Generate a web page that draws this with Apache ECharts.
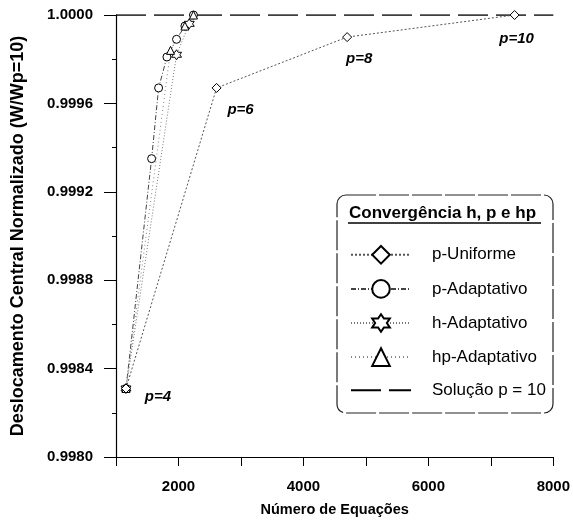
<!DOCTYPE html>
<html>
<head>
<meta charset="utf-8">
<script src="https://cdn.jsdelivr.net/npm/echarts@6/dist/echarts.min.js"></script>
<style>
  html, body { margin: 0; padding: 0; background: #fff; }
  #chart { width: 573px; height: 526px; }
</style>
</head>
<body>
<div id="chart"></div>
<script>
// values
const xTicks = [2000, 4000, 6000, 8000]
const yTicks = [0.998, 0.9984, 0.9988, 0.9992, 0.9996, 1.0]

const uniX = [1160, 2610, 4700, 7380]
const uniY = [0.99831, 0.99967, 0.9999, 1.0]
const uniLabels = ['p=4', 'p=6', 'p=8', 'p=10']

const pAdaX = [1160, 1570, 1682, 1815, 1969, 2103, 2240]
const pAdaY = [0.99831, 0.99935, 0.99967, 0.99981, 0.99989, 0.99995, 1.0]

const hAdaX = [1160, 1969, 2172, 2278]
const hAdaY = [0.99831, 0.99982, 0.99996, 1.00001]

const hpAdaX = [1160, 1873, 2103, 2240]
const hpAdaY = [0.99831, 0.99984, 0.99995, 1.0]

const solX = [1000, 8000]
const solY = [1.0, 1.0]

const zip = (xs, ys) => xs.map((x, i) => [x, ys[i]])

const font = 'Liberation Sans, Arial, sans-serif'
const star = 'path://M50 0 L64.4 25 L93.3 25 L78.9 50 L93.3 75 L64.4 75 L50 100 L35.6 75 L6.7 75 L21.1 50 L6.7 25 L35.6 25 Z'
const labelOffsets = [[32, 8], [24, 22], [12, 22], [2, 24]]

const markStyle = { color: '#fff', borderColor: '#000', borderWidth: 1 }

const chart = echarts.init(document.getElementById('chart'))
chart.setOption({
  backgroundColor: '#fff',
  animation: false,
  grid: { left: 116, right: 18, top: 15, bottom: 69 },
  xAxis: {
    type: 'value',
    min: 1000,
    max: 8000,
    interval: 1000,
    name: 'Número de Equações',
    nameLocation: 'middle',
    nameGap: 45,
    nameTextStyle: { fontFamily: font, fontSize: 14.5, fontWeight: 'bold', color: '#000' },
    axisLine: { lineStyle: { color: '#000', width: 1 } },
    axisTick: { inside: false, length: 9, lineStyle: { color: '#000' } },
    axisLabel: {
      margin: 22,
      fontFamily: font, fontSize: 15, fontWeight: 'bold', color: '#000',
      formatter: v => (xTicks.includes(v) ? String(v) : '')
    },
    splitLine: { show: false }
  },
  yAxis: {
    type: 'value',
    min: yTicks[0],
    max: yTicks[yTicks.length - 1],
    interval: 0.0004,
    name: 'Deslocamento Central Normalizado (W/Wp=10)',
    nameLocation: 'middle',
    nameGap: 89,
    nameTextStyle: { fontFamily: font, fontSize: 18, fontWeight: 'bold', color: '#000' },
    axisLine: { show: true, lineStyle: { color: '#000', width: 1.2 } },
    axisTick: { length: 12, lineStyle: { color: '#000' } },
    minorTick: { show: true, splitNumber: 2, length: 4, lineStyle: { color: '#000' } },
    axisLabel: {
      margin: 23,
      fontFamily: font, fontSize: 15, fontWeight: 'bold', color: '#000',
      formatter: v => v.toFixed(4)
    },
    splitLine: { show: false }
  },
  legend: {
    orient: 'vertical',
    left: 345,
    top: 240,
    itemWidth: 60,
    itemHeight: 22,
    itemGap: 14.5,
    textStyle: { fontFamily: font, fontSize: 17, color: '#000', padding: [0, 0, 0, 16] },
    data: [
      'p-Uniforme', 'p-Adaptativo', 'h-Adaptativo', 'hp-Adaptativo',
      { name: 'Solução p = 10', itemStyle: { opacity: 0 } }
    ]
  },
  graphic: [
    {
      type: 'rect',
      shape: { x: 337, y: 195, width: 216, height: 218, r: 9 },
      style: { fill: 'none', stroke: '#222', lineWidth: 1.2, lineDash: [30, 3] },
      z: 10
    },
    {
      type: 'text',
      left: 349,
      top: 205,
      style: { text: 'Convergência h, p e hp', fontFamily: font, fontSize: 17, fontWeight: 'bold', fill: '#000' },
      z: 10
    },
    {
      type: 'line',
      shape: { x1: 348, y1: 223, x2: 541, y2: 223 },
      style: { stroke: '#000', lineWidth: 1.3 },
      z: 10
    }
  ],
  series: [
    {
      name: 'p-Uniforme',
      type: 'line',
      symbol: 'diamond',
      symbolSize: 9,
      itemStyle: markStyle,
      lineStyle: { color: '#555', width: 1, type: [2, 2] },
      z: 5,
      data: uniX.map((x, i) => ({
        value: [x, uniY[i]],
        label: {
          show: true,
          formatter: uniLabels[i],
          position: 'inside',
          offset: labelOffsets[i],
          fontFamily: font, fontSize: 15, fontWeight: 'bold', fontStyle: 'italic', color: '#000'
        }
      }))
    },
    {
      name: 'p-Adaptativo',
      type: 'line',
      symbol: 'circle',
      symbolSize: 8,
      itemStyle: markStyle,
      lineStyle: { color: '#444', width: 1, type: [5, 2, 1, 2] },
      data: zip(pAdaX, pAdaY)
    },
    {
      name: 'h-Adaptativo',
      type: 'line',
      symbol: star,
      symbolSize: 10,
      itemStyle: markStyle,
      lineStyle: { color: '#777', width: 1, type: [1, 2] },
      data: zip(hAdaX, hAdaY)
    },
    {
      name: 'hp-Adaptativo',
      type: 'line',
      symbol: 'triangle',
      symbolSize: 8,
      itemStyle: markStyle,
      lineStyle: { color: '#888', width: 1, type: [1, 3] },
      data: zip(hpAdaX, hpAdaY)
    },
    {
      name: 'Solução p = 10',
      type: 'line',
      symbol: 'none',
      itemStyle: { color: '#000' },
      lineStyle: { color: '#000', width: 1.5, type: [30, 8] },
      data: zip(solX, solY)
    }
  ]
})
</script>
</body>
</html>
